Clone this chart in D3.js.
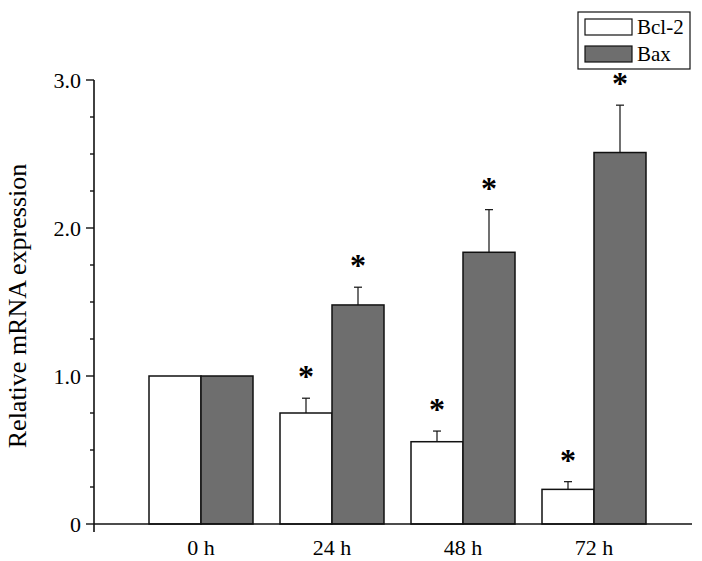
<!DOCTYPE html>
<html>
<head>
<meta charset="utf-8">
<script src="https://cdn.jsdelivr.net/npm/d3@7"></script>
<style>
  body { margin: 0; background: #fff; }
  svg { display: block; font-family: "Liberation Serif", "Times New Roman", serif; }
</style>
</head>
<body>
<svg id="chart" width="702" height="561"></svg>
<script>
// data
const times = ["0 h", "24 h", "48 h", "72 h"];
const series = ["Bcl-2", "Bax"];
const bcl2 = [1.0, 0.75, 0.556, 0.234];
const bcl2Err = [0, 0.10, 0.072, 0.052];
const bax = [1.0, 1.48, 1.836, 2.51];
const baxErr = [0, 0.12, 0.288, 0.32];
const signif = [false, true, true, true];
const yTicks = [0, 1, 2, 3];
const yTickLabels = ["0", "1.0", "2.0", "3.0"];

// config
const fills = {"Bcl-2": "#ffffff", "Bax": "#6e6e6e"};
const axX = 94, axY0 = 524, axY1 = 80, axRight = 692;

const svg = d3.select("#chart");

let y = d3.scaleLinear().domain([0, 3]).range([axY0, axY1]);
let x = d3.scalePoint().domain(times).range([201, 594]);
let xs = d3.scaleBand().domain(series).range([-52, 52]).padding(0);

let rows = [];
times.forEach((t, i) => {
    rows.push({t: t, s: "Bcl-2", v: bcl2[i], e: bcl2Err[i], sig: signif[i]});
    rows.push({t: t, s: "Bax", v: bax[i], e: baxErr[i], sig: signif[i]});
});

// bars
const g = svg.append("g");
g.selectAll("rect.bar").data(rows).join("rect")
    .attr("class", "bar")
    .attr("x", d => x(d.t) + xs(d.s))
    .attr("y", d => y(d.v))
    .attr("width", xs.bandwidth())
    .attr("height", d => y(0) - y(d.v))
    .attr("fill", d => fills[d.s])
    .attr("stroke", "#111")
    .attr("stroke-width", 1.5);

// error bars (upper only)
const errs = rows.filter(d => d.e > 0);
const cx = d => x(d.t) + xs(d.s) + xs.bandwidth() / 2;
g.selectAll("line.err").data(errs).join("line")
    .attr("class", "err")
    .attr("x1", cx).attr("x2", cx)
    .attr("y1", d => y(d.v)).attr("y2", d => y(d.v + d.e))
    .attr("stroke", "#111").attr("stroke-width", 1.2);
g.selectAll("line.cap").data(errs).join("line")
    .attr("class", "cap")
    .attr("x1", d => cx(d) - 4).attr("x2", d => cx(d) + 4)
    .attr("y1", d => y(d.v + d.e)).attr("y2", d => y(d.v + d.e))
    .attr("stroke", "#111").attr("stroke-width", 1.2);

// stars
g.selectAll("text.star").data(rows.filter(d => d.sig)).join("text")
    .attr("class", "star")
    .attr("x", cx)
    .attr("y", d => y(d.v + d.e) - 11)
    .attr("text-anchor", "middle")
    .attr("font-size", 32)
    .attr("font-weight", "bold")
    .text("*");

// y axis
const yAxis = svg.append("g");
yAxis.append("line")
    .attr("x1", axX).attr("x2", axX)
    .attr("y1", axY1).attr("y2", axY0 + 8)
    .attr("stroke", "#111").attr("stroke-width", 1.6);
const minor = d3.range(0, 3.01, 0.25);
yAxis.selectAll("line.tk").data(minor).join("line")
    .attr("class", "tk")
    .attr("x1", d => (Math.abs(d - Math.round(d)) < 1e-6 ? axX - 8 : axX - 4))
    .attr("x2", axX)
    .attr("y1", d => y(d)).attr("y2", d => y(d))
    .attr("stroke", "#111").attr("stroke-width", 1.4);
yAxis.selectAll("text").data(yTicks).join("text")
    .attr("x", axX - 13)
    .attr("y", d => y(d))
    .attr("dy", "0.35em")
    .attr("text-anchor", "end")
    .attr("font-size", 22)
    .text((d, i) => yTickLabels[i]);

svg.append("text")
    .attr("transform", "translate(26,306) rotate(-90)")
    .attr("text-anchor", "middle")
    .attr("font-size", 26)
    .text("Relative mRNA expression");

// x axis
svg.append("line")
    .attr("x1", axX).attr("x2", axRight)
    .attr("y1", axY0).attr("y2", axY0)
    .attr("stroke", "#111").attr("stroke-width", 1.6);
svg.append("g").selectAll("text").data(times).join("text")
    .attr("x", d => x(d))
    .attr("y", 555)
    .attr("text-anchor", "middle")
    .attr("font-size", 22)
    .text(d => d);

// legend
const lg = svg.append("g").attr("transform", "translate(578,12)");
lg.append("rect").attr("width", 112).attr("height", 57)
    .attr("fill", "#fff").attr("stroke", "#111").attr("stroke-width", 1.2);
const li = lg.selectAll("g.item").data(series).join("g")
    .attr("class", "item")
    .attr("transform", (d, i) => "translate(7," + (7 + i * 27) + ")");
li.append("rect").attr("width", 47).attr("height", 16)
    .attr("fill", d => fills[d]).attr("stroke", "#111").attr("stroke-width", 1.2);
li.append("text").attr("x", 52).attr("y", 8).attr("dy", "0.35em")
    .attr("font-size", 21).text(d => d);
</script>
</body>
</html>
